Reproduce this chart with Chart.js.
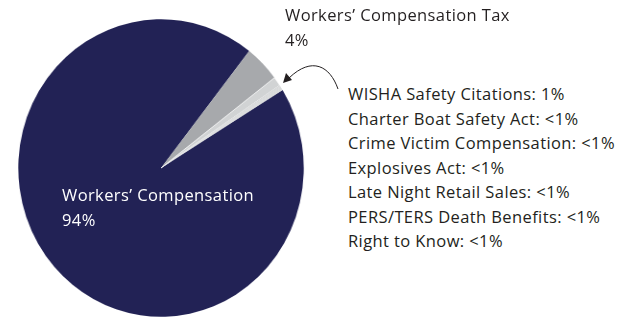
<!DOCTYPE html>
<html>
<head>
<meta charset="utf-8">
<script src="https://cdn.jsdelivr.net/npm/chart.js@4"></script>
<style>
  html, body { margin: 0; padding: 0; background: #fff; }
  body { width: 623px; height: 322px; position: relative; overflow: hidden; font-family: "Open Sans", sans-serif; }
  #pieWrap { position: absolute; left: 0; top: 0; width: 322px; height: 322px; transform: scaleX(0.96); transform-origin: 161px 0; }
  .txt { position: absolute; white-space: nowrap; color: #231f20; font-size: 16.5px; letter-spacing: 0.4px; }
  #insideLabel { color: #fff; }
  #arrow { position: absolute; left: 0; top: 0; }
</style>
</head>
<body>
<div id="pieWrap"><canvas id="pieChart" width="322" height="322"></canvas></div>
<div class="txt" id="taxLabel" style="left:285px; top:2px; line-height:25px;"></div>
<div class="txt" id="insideLabel" style="left:62px; top:182px; line-height:25px;"></div>
<div class="txt" id="smallList" style="left:348px; top:82px; line-height:24.5px;"></div>
<svg id="arrow" width="623" height="322">
  <path d="M338,89 C330,66 312,56 289,78" fill="none" stroke="#231f20" stroke-width="1"/>
  <polygon points="283,83 286,73 292,80" fill="#231f20"/>
</svg>
<script>
// revenue share by program
const programs = [
  "Workers’ Compensation",
  "Workers’ Compensation Tax",
  "WISHA Safety Citations",
  "Charter Boat Safety Act",
  "Crime Victim Compensation",
  "Explosives Act",
  "Late Night Retail Sales",
  "PERS/TERS Death Benefits",
  "Right to Know"
];
const shares = [94, 4, 1, 0.1, 0.1, 0.1, 0.1, 0.1, 0.1];
const shareText = ["94%", "4%", "1%", "<1%", "<1%", "<1%", "<1%", "<1%", "<1%"];
const sliceColors = ["#222255", "#a7a9ac", "#d1d3d4", "#d1d3d4", "#d1d3d4", "#d1d3d4", "#d1d3d4", "#d1d3d4", "#d1d3d4"];

// labels
document.getElementById('insideLabel').innerHTML = programs[0] + '<br>' + shareText[0];
document.getElementById('taxLabel').innerHTML = programs[1] + '<br>' + shareText[1];
document.getElementById('smallList').innerHTML = programs.slice(2)
  .map((p, i) => p + ': ' + shareText[i + 2]).join('<br>');

const ctx = document.getElementById('pieChart').getContext('2d');
new Chart(ctx, {
  type: 'pie',
  data: {
    labels: programs,
    datasets: [{
      data: shares,
      backgroundColor: sliceColors,
      borderColor: '#ffffff',
      borderWidth: [0, 0, 0.6, 0, 0, 0, 0, 0, 0]
    }]
  },
  options: {
    responsive: false,
    animation: false,
    rotation: 58.4,
    layout: { padding: { left: 12, right: 12, top: 19, bottom: 5 } },
    plugins: {
      legend: { display: false },
      tooltip: { enabled: false }
    }
  }
});
</script>
</body>
</html>
